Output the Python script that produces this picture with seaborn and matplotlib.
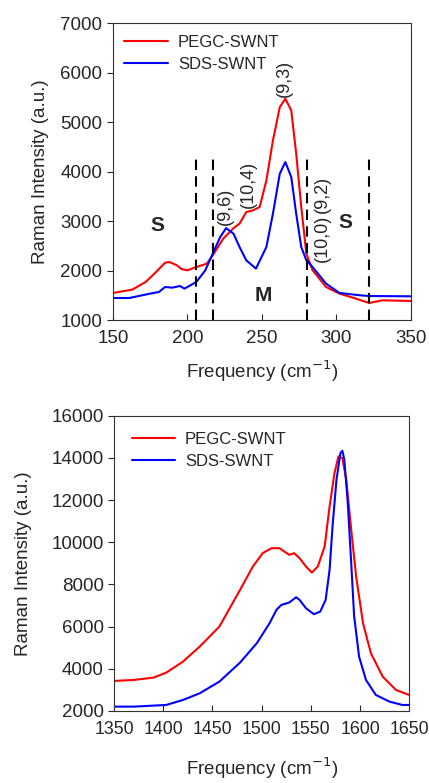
import numpy as np
import matplotlib
matplotlib.use("Agg")
import matplotlib.pyplot as plt
import seaborn as sns

# RBM region (top panel)
rbm_pegc_x = [150, 163, 172, 179, 185, 188, 193, 196, 200, 206, 213, 217, 224, 231, 235, 239.5, 244,
              248.5, 253, 257.4, 262, 265.7, 269.7, 273, 276.4, 279.8, 284, 293, 302, 311, 322, 331, 350]
rbm_pegc_y = [1551, 1619, 1773, 1975, 2163, 2177, 2110, 2036, 2009, 2076, 2143, 2311, 2648, 2863, 2953,
              3188, 3222, 3289, 3828, 4636, 5309, 5478, 5242, 4367, 3289, 2347, 2010, 1673, 1539, 1457,
              1350, 1403, 1390]
rbm_sds_x = [150, 161, 175, 181, 185, 190, 195, 198, 206, 212, 217, 222, 226, 231, 235, 239.5, 246,
             253, 257.4, 262, 265.7, 269.7, 273, 276.4, 279.8, 283, 287.6, 293, 302, 315.6, 322, 350]
rbm_sds_y = [1450, 1450, 1538, 1572, 1672, 1659, 1693, 1639, 1773, 2009, 2345, 2681, 2863, 2748, 2481,
             2212, 2044, 2481, 3155, 3963, 4198, 3895, 3155, 2481, 2212, 2111, 1943, 1741, 1552, 1505,
             1490, 1484]

region_bounds = [206, 217, 280, 322]
chirality_labels = ["(9,6)", "(10,4)", "(9,3)", "(10,0)", "(9,2)"]
chirality_x = [225.5, 240.7, 265, 290.6, 290.6]
chirality_y = [3307, 3744, 5896, 2648, 3542]

# G band region (bottom panel)
g_pegc_x = [1350, 1370, 1390, 1403, 1420, 1437, 1457, 1478, 1491, 1501, 1510, 1518, 1528, 1533, 1538.5,
            1545, 1551, 1557, 1564, 1569, 1574, 1578, 1582, 1586, 1591, 1596, 1603, 1611, 1623, 1636.5,
            1650]
g_pegc_y = [3424, 3471, 3582, 3819, 4341, 5053, 6002, 7743, 8850, 9483, 9720, 9720, 9404, 9483, 9247,
            8850, 8564, 8850, 9800, 11696, 13282, 14070, 13993, 12963, 10590, 8376, 6162, 4738, 3628,
            2997, 2759]
g_sds_x = [1350, 1370, 1403, 1420, 1437, 1457, 1478, 1495, 1508, 1515, 1520, 1528, 1535, 1538.5, 1545,
           1553, 1559.5, 1565, 1569, 1572, 1576, 1580, 1582, 1584, 1587.5, 1591, 1594, 1599, 1606, 1616,
           1630, 1643, 1650]
g_sds_y = [2206, 2206, 2285, 2522, 2838, 3392, 4294, 5211, 6161, 6793, 7031, 7142, 7395, 7268, 6874,
           6589, 6713, 7268, 8692, 10746, 12963, 14230, 14340, 13913, 11858, 9010, 6476, 4577, 3470,
           2759, 2441, 2285, 2285]

sns.set_style("ticks")
plt.rcParams["font.family"] = ["Liberation Sans", "DejaVu Sans"]
plt.rcParams.update({"font.size": 13.5, "axes.linewidth": 0.8})

fig = plt.figure(figsize=(4.29, 7.83), dpi=100)
ax1 = fig.add_axes([0.263, 0.591, 0.695, 0.379])
ax2 = fig.add_axes([0.266, 0.092, 0.688, 0.377])

red, blue = "#ff0000", "#0000ff"

# top panel
sns.lineplot(x=rbm_pegc_x, y=rbm_pegc_y, color=red, lw=1.5, label="PEGC-SWNT", ax=ax1)
sns.lineplot(x=rbm_sds_x, y=rbm_sds_y, color=blue, lw=1.5, label="SDS-SWNT", ax=ax1)
ax1.vlines(region_bounds, 1000, 4330, colors="black", linestyles=(0, (5, 3)), lw=1.5)
for lab, x, y in zip(chirality_labels, chirality_x, chirality_y):
    ax1.text(x, y, lab, rotation=90, ha="center", va="center", fontsize=13)
ax1.text(180, 2917, "S", fontsize=15, fontweight="bold", ha="center", va="center")
ax1.text(306, 2983, "S", fontsize=15, fontweight="bold", ha="center", va="center")
ax1.text(251, 1504, "M", fontsize=15, fontweight="bold", ha="center", va="center")
ax1.set_xlim(150, 350)
ax1.set_ylim(1000, 7000)
ax1.set_xticks([150, 200, 250, 300, 350])
ax1.set_yticks(np.arange(1000, 7001, 1000))
ax1.set_xlabel("Frequency (cm$^{-1}$)", labelpad=8)
ax1.set_ylabel("Raman Intensity (a.u.)", labelpad=8)
ax1.legend(loc="upper left", frameon=False, fontsize=12, handlelength=2.6, handletextpad=0.6,
           borderaxespad=0.3, labelspacing=0.4)

# bottom panel
sns.lineplot(x=g_pegc_x, y=g_pegc_y, color=red, lw=1.5, label="PEGC-SWNT", ax=ax2)
sns.lineplot(x=g_sds_x, y=g_sds_y, color=blue, lw=1.5, label="SDS-SWNT", ax=ax2)
ax2.set_xlim(1350, 1650)
ax2.set_ylim(2000, 16000)
ax2.set_xticks(np.arange(1350, 1651, 50))
ax2.set_yticks(np.arange(2000, 16001, 2000))
ax2.set_xlabel("Frequency (cm$^{-1}$)", labelpad=13)
ax2.set_ylabel("Raman Intensity (a.u.)", labelpad=14)
ax2.legend(loc="upper left", bbox_to_anchor=(0.02, 0.985), frameon=False, fontsize=12,
           handlelength=2.6, handletextpad=0.6, borderaxespad=0.3, labelspacing=0.4)

for ax in (ax1, ax2):
    ax.tick_params(axis="x", direction="in", length=4, labelsize=13.5, pad=7)
    ax.tick_params(axis="y", direction="out", length=4, labelsize=13.5)
    for s in ax.spines.values():
        s.set_color("#333333")
ax2.tick_params(axis="x", labelsize=12.8)

fig.savefig("out.png", dpi=100)
